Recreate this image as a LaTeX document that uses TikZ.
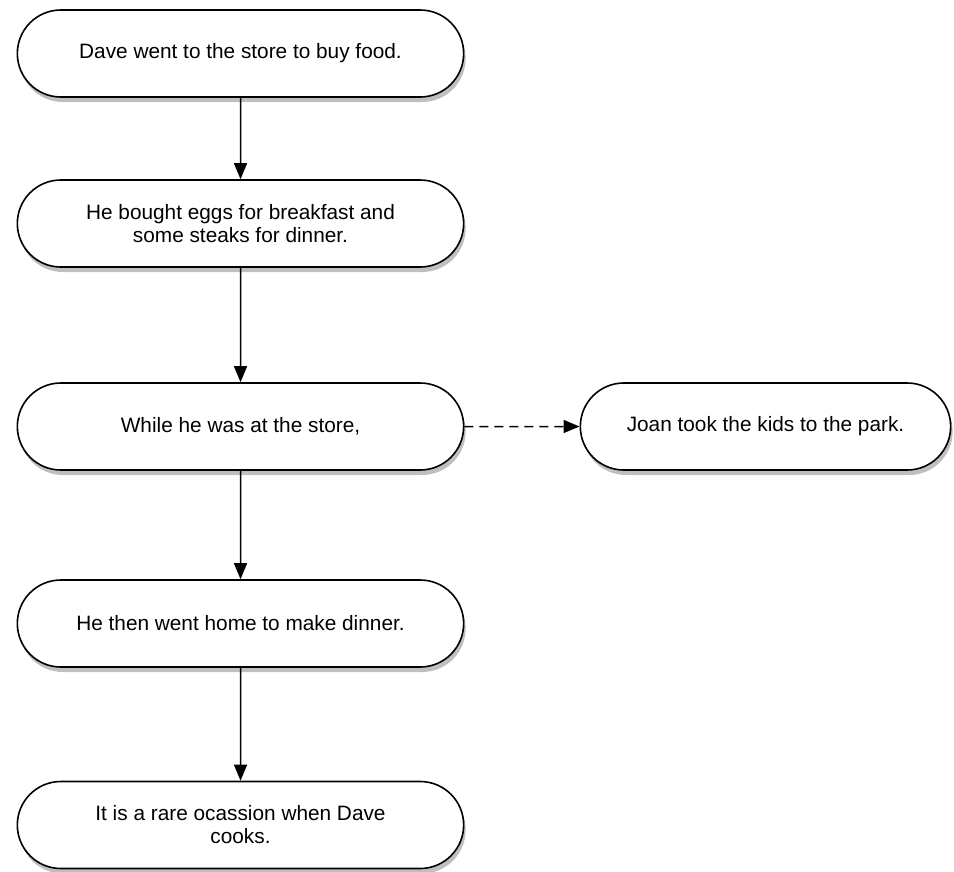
\documentclass[tikz,border=0pt]{standalone}
\usepackage{fontspec}
\setmainfont{Liberation Sans}
\usetikzlibrary{shapes.misc,shadows,arrows.meta}

\begin{document}
\begin{tikzpicture}[x=1pt,y=1pt,
  story/.style={rounded rectangle, draw, line width=1.6pt, fill=white,
    minimum height=87pt, align=center,
    font=\fontsize{20.8}{23}\selectfont,
    drop shadow={shadow xshift=2pt,shadow yshift=-5pt,opacity=.5}},
  follows/.style={line width=1.5pt, -{Triangle[length=16pt,width=13pt]}}]

\useasboundingbox (0,0) rectangle (954,-871);

% main line of the story
\node[story, minimum width=453pt] (dave)   at (240.5,-53.5) {Dave went to the store to buy food.};
\node[story, minimum width=453pt] (eggs)   at (240.5,-223.5) {He bought eggs for breakfast and\\some steaks for dinner.};
\node[story, minimum width=453pt] (while)  at (240.5,-426.5) {While he was at the store,};
\node[story, minimum width=453pt] (home)   at (240.5,-623.5) {He then went home to make dinner.};
\node[story, minimum width=453pt] (cooks)  at (240.5,-825) {It is a rare ocassion when Dave\\cooks.};

% side event
\node[story, minimum width=377pt] (joan) at (765.5,-426.5) {Joan took the kids to the park.};

% arrows
\draw[follows] (dave) -- (eggs);
\draw[follows] (eggs) -- (while);
\draw[follows] (while) -- (home);
\draw[follows] (home) -- (cooks);
\draw[follows, dash pattern=on 9pt off 6pt] (while) -- (joan);
\end{tikzpicture}
\end{document}
